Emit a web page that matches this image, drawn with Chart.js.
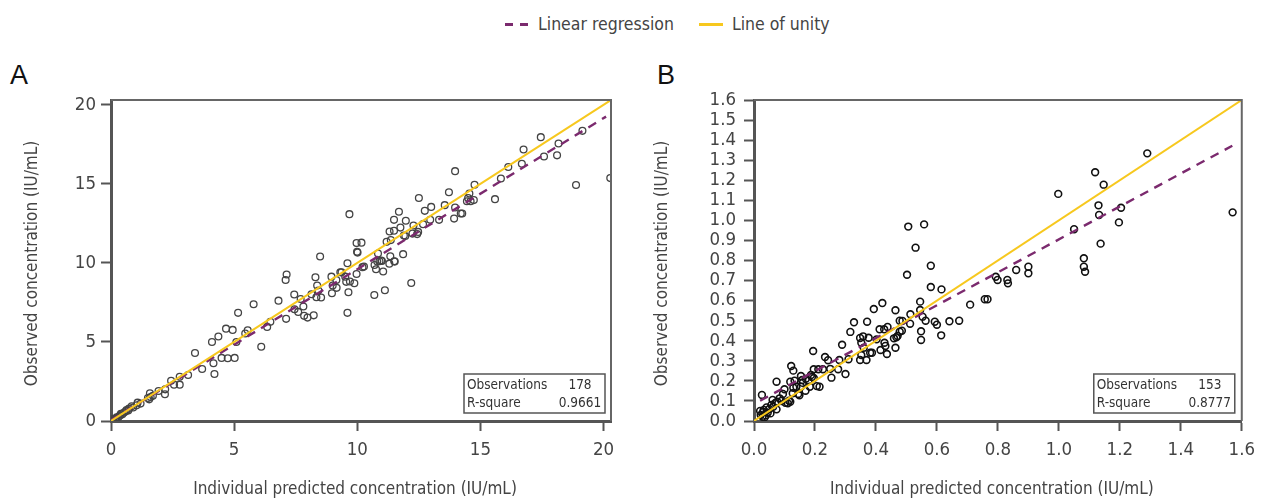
<!DOCTYPE html>
<html>
<head>
<meta charset="utf-8">
<script src="https://cdn.jsdelivr.net/npm/chart.js@4.4.1/dist/chart.umd.min.js"></script>
<style>
body { margin:0; background:#fff; width:1263px; height:500px; position:relative; overflow:hidden; }
canvas { position:absolute; top:0; }
#chartA { left:0; }
#chartB { left:632px; }
.panelLetter { position:absolute; top:62px; font:27px/27px "Liberation Sans", Arial, sans-serif; color:#111; }
#legend { position:absolute; top:11px; left:505px; height:26px; display:flex; align-items:center;
  font:17.5px/26px "DejaVu Sans Condensed", "Liberation Sans Narrow", sans-serif; color:#444; }
.swatch { width:24px; height:3px; margin-right:9px; }
#swRegression { background:repeating-linear-gradient(90deg,#7b2a6e 0 8px,transparent 8px 15px); }
#swUnity { background:#f7c81e; margin-left:25px; }
</style>
</head>
<body>
<div id="legend"><div class="swatch" id="swRegression"></div><span>Linear regression</span><div class="swatch" id="swUnity"></div><span>Line of unity</span></div>
<div class="panelLetter" style="left:10px">A</div>
<div class="panelLetter" style="left:657px">B</div>
<canvas id="chartA" width="631" height="500"></canvas>
<canvas id="chartB" width="631" height="500"></canvas>
<script>
// panel A
const predA = [20.27,19.14,17.45,18.17,18.11,17.58,16.75,16.68,16.13,15.83,18.88,15.59,14.76,13.97,13.72,14.55,14.5,14.45,14.6,14.73,
  12.5,13.55,13.97,13.0,12.74,11.69,14.2,14.26,13.93,13.32,12.96,11.49,11.97,11.75,12.28,12.67,11.31,11.49,11.89,11.95,
  12.24,12.47,12.43,11.19,11.36,9.97,10.17,9.68,9.99,10.84,11.86,11.34,10.9,11.0,11.5,11.3,
  8.49,7.13,7.09,8.3,9.6,6.8,7.44,7.7,8.14,8.37,8.42,8.34,8.53,8.95,9.15,9.0,9.16,8.97,9.31,9.36,9.51,9.55,9.7,9.88,
  9.64,9.6,9.97,5.79,5.16,7.11,7.45,7.6,7.84,7.98,8.23,7.81,6.47,6.34,5.55,5.45,6.1,5.09,4.67,4.94,4.1,4.36,3.41,
  4.49,4.74,5.02,4.16,3.7,4.2,3.13,2.79,2.44,2.56,2.79,2.2,2.19,1.93,1.58,1.61,1.55,1.08,1.04,0.84,0.73,0.63,0.53,
  0.46,0.36,0.23,0.16,11.52,10.97,10.81,10.7,11.05,10.76,10.27,10.21,10.01,12.19,11.12,10.69,
  0.1,0.05,0.3,0.4,0.6,0.7,0.9,1.2,1.5,1.7,0.2,0.08];
const obsA = [15.36,18.35,17.95,17.55,16.8,16.73,17.17,16.27,16.06,15.34,14.92,14.03,14.94,15.8,14.47,14.39,14.1,13.9,13.9,13.97,
  14.1,13.65,13.5,13.54,13.29,13.23,13.12,13.12,12.8,12.72,12.72,12.72,12.66,12.23,12.36,12.45,11.98,12.03,11.73,11.7,
  11.85,11.96,11.82,11.33,11.44,11.25,11.28,13.08,10.7,10.59,10.55,10.42,10.1,10.12,10.1,9.95,
  10.4,9.26,8.92,9.09,9.98,7.61,8.0,7.72,8.02,8.57,8.25,7.83,7.81,9.13,8.92,8.57,8.42,8.08,9.41,9.4,9.13,8.8,8.82,8.71,
  8.14,6.84,9.3,7.38,6.84,6.46,7.07,6.9,6.65,6.54,6.68,7.24,6.27,5.95,5.74,5.53,4.7,5.0,5.84,5.76,5.0,5.34,4.3,
  3.99,3.97,3.99,3.65,3.29,2.97,2.91,2.8,2.55,2.3,2.3,2.0,1.69,1.9,1.75,1.52,1.37,1.16,0.99,0.93,0.78,0.7,0.53,
  0.42,0.34,0.23,0.1,10.08,10.15,10.08,9.87,9.45,9.6,9.77,9.73,10.65,8.73,8.27,7.97,
  0.05,0.08,0.25,0.45,0.62,0.66,0.85,1.1,1.45,1.6,0.15,0.12];
const regA_x = [0, 20.1];
const regA_y = [0.05, 19.25];
const unityA = [0, 20.3];
const ticksA = [0, 5, 10, 15, 20];
const statsA = ["178", "0.9661"];

// panel B
const predB = [0.506,0.558,0.53,1.29,1.119,1.147,0.998,1.13,1.132,1.204,1.197,1.05,1.137,1.082,1.57,1.082,1.086,0.9,0.9,0.86,
  0.831,0.833,0.793,0.799,0.766,0.58,0.502,0.58,0.615,0.545,0.545,0.709,0.757,0.513,0.478,0.487,0.553,0.563,0.593,0.6,
  0.641,0.673,0.614,0.548,0.548,0.512,0.464,0.421,0.393,0.371,0.328,0.316,0.289,0.194,0.233,0.243,0.28,0.31,0.196,0.211,
  0.226,0.254,0.276,0.3,0.348,0.352,0.358,0.376,0.36,0.381,0.387,0.348,0.369,0.352,0.402,0.415,0.412,0.427,0.438,0.428,
  0.431,0.436,0.459,0.467,0.471,0.464,0.478,0.485,0.187,0.19,0.179,0.154,0.158,0.183,0.215,0.122,0.129,0.074,0.119,0.133,
  0.1,0.095,0.129,0.139,0.127,0.145,0.154,0.115,0.103,0.111,0.119,0.084,0.076,0.061,0.026,0.057,0.063,0.074,0.041,0.032,
  0.045,0.022,0.028,0.035,0.039,0.054,0.206,0.169,0.149,0.196,0.03,0.05,0.02,0.07,0.09,0.16,0.17,0.25];
const obsB = [0.969,0.98,0.864,1.334,1.24,1.178,1.132,1.075,1.027,1.063,0.99,0.956,0.884,0.811,1.04,0.769,0.744,0.769,0.736,0.753,
  0.703,0.686,0.719,0.703,0.607,0.774,0.729,0.668,0.656,0.595,0.553,0.58,0.607,0.532,0.5,0.499,0.52,0.5,0.495,0.48,
  0.497,0.5,0.427,0.447,0.404,0.485,0.552,0.588,0.558,0.495,0.492,0.444,0.38,0.349,0.319,0.303,0.304,0.308,0.258,0.258,
  0.258,0.216,0.258,0.234,0.414,0.39,0.422,0.415,0.365,0.34,0.34,0.304,0.304,0.329,0.407,0.354,0.457,0.457,0.469,0.39,
  0.374,0.334,0.412,0.417,0.424,0.365,0.445,0.45,0.229,0.219,0.201,0.224,0.204,0.171,0.171,0.274,0.251,0.196,0.196,0.201,
  0.158,0.135,0.166,0.171,0.138,0.135,0.171,0.101,0.091,0.088,0.096,0.113,0.096,0.105,0.13,0.08,0.071,0.058,0.068,0.055,
  0.041,0.03,0.021,0.018,0.028,0.038,0.174,0.151,0.128,0.214,0.045,0.06,0.05,0.09,0.1,0.19,0.21,0.26];
const regB_x = [0.02, 1.569];
const regB_y = [0.101, 1.372];
const unityB = [0, 1.6];
const ticksB = [0, 0.2, 0.4, 0.6, 0.8, 1.0, 1.2, 1.4, 1.6];
const ticksBy = [0,0.1,0.2,0.3,0.4,0.5,0.6,0.7,0.8,0.9,1.0,1.1,1.2,1.3,1.4,1.5,1.6];
const statsB = ["153", "0.8777"];
const statsLabels = ["Observations", "R-square"];
const xTitle = "Individual predicted concentration (IU/mL)";
const yTitle = "Observed concentration (IU/mL)";

const narrow = '"DejaVu Sans Condensed", "Liberation Sans Narrow", sans-serif';
const axisGrey = "#555";
const textGrey = "#444";

function toPoints(xs, ys) {
  return xs.map((x, i) => ({ x: x, y: ys[i] }));
}

// top + right frame, axis titles (sit a bit off-centre in the original) and the stats box
const framePlugin = {
  id: "frame",
  afterDraw(chart, args, opts) {
    const ctx = chart.ctx;
    const a = chart.chartArea;
    ctx.save();
    ctx.strokeStyle = "#666";
    ctx.lineWidth = 2;
    ctx.beginPath();
    ctx.moveTo(a.left, a.top);
    ctx.lineTo(a.right, a.top);
    ctx.lineTo(a.right, a.bottom);
    ctx.stroke();

    ctx.fillStyle = textGrey;
    ctx.font = "17px " + narrow;
    ctx.textAlign = "center";
    ctx.textBaseline = "middle";
    ctx.fillText(xTitle, (a.left + a.right) / 2 - 6, 490);
    ctx.save();
    ctx.translate(opts.yTitleX, (a.top + a.bottom) / 2 + 3);
    ctx.rotate(-Math.PI / 2);
    ctx.fillText(yTitle, 0, 0);
    ctx.restore();

    const w = 141, h = 39;
    const r = a.right - opts.gapRight, b = a.bottom - 8;
    ctx.fillStyle = "#fff";
    ctx.fillRect(r - w, b - h, w, h);
    ctx.strokeStyle = "#555";
    ctx.lineWidth = 1.5;
    ctx.strokeRect(r - w, b - h, w, h);
    ctx.fillStyle = "#333";
    ctx.font = "13.5px " + narrow;
    for (let i = 0; i < 2; i++) {
      const y = b - h + 11 + i * 18.5;
      ctx.textAlign = "left";
      ctx.fillText(statsLabels[i], r - w + 3, y);
      ctx.textAlign = "center";
      ctx.fillText(opts.values[i], r - 25, y);
    }
    ctx.restore();
  }
};

function makePanel(id, cfg) {
  const tickFont = { family: narrow, size: 18.5 };
  return new Chart(document.getElementById(id), {
    type: "scatter",
    data: {
      datasets: [
        {
          data: toPoints(cfg.unity, cfg.unity),
          showLine: true, borderColor: "#f7c81e", borderWidth: 2, pointRadius: 0
        },
        {
          data: toPoints(cfg.regX, cfg.regY),
          showLine: true, borderColor: "#7b2a6e", borderWidth: 2.4, borderDash: [9, 7], pointRadius: 0
        },
        {
          data: toPoints(cfg.px, cfg.py),
          pointRadius: 3.4, borderWidth: cfg.pointWidth, borderColor: cfg.pointColor,
          backgroundColor: "rgba(255,255,255,0)", pointStyle: "circle"
        }
      ]
    },
    options: {
      responsive: false,
      animation: false,
      layout: { padding: { top: 100, right: cfg.padRight, left: 0, bottom: 0 } },
      plugins: {
        legend: { display: false },
        tooltip: { enabled: false },
        frame: { values: cfg.stats, gapRight: cfg.boxGap, yTitleX: cfg.yTitleX }
      },
      scales: {
        x: {
          type: "linear", min: 0, max: cfg.max,
          afterFit: (s) => { s.height = 79; },
          afterBuildTicks: (s) => { s.ticks = cfg.xTicks.map((v) => ({ value: v })); },
          grid: { drawOnChartArea: false, drawTicks: true, tickLength: 10, tickWidth: 2, tickColor: axisGrey },
          border: { display: true, color: axisGrey, width: 3 },
          ticks: { color: textGrey, font: tickFont, padding: 8, maxRotation: 0, autoSkip: false, callback: cfg.fmt }
        },
        y: {
          type: "linear", min: 0, max: cfg.max,
          afterFit: (s) => { s.width = cfg.yWidth; },
          afterBuildTicks: (s) => { s.ticks = cfg.yTicks.map((v) => ({ value: v })); },
          grid: { drawOnChartArea: false, drawTicks: true, tickLength: 10, tickWidth: 2, tickColor: axisGrey },
          border: { display: true, color: axisGrey, width: 3 },
          ticks: { color: textGrey, font: tickFont, padding: cfg.yPad, autoSkip: false, callback: cfg.fmt }
        }
      }
    },
    plugins: [framePlugin]
  });
}

makePanel("chartA", {
  px: predA, py: obsA, regX: regA_x, regY: regA_y, unity: unityA, max: 20.3,
  xTicks: ticksA, yTicks: ticksA, fmt: (v) => String(v), stats: statsA,
  pointColor: "#444", pointWidth: 1.3, padRight: 20, yWidth: 111, yPad: 5, yTitleX: 33, boxGap: 6
});

makePanel("chartB", {
  px: predB, py: obsB, regX: regB_x, regY: regB_y, unity: unityB, max: 1.6,
  xTicks: ticksB, yTicks: ticksBy, fmt: (v) => v.toFixed(1), stats: statsB,
  pointColor: "#111", pointWidth: 1.6, padRight: 16, yWidth: 122, yPad: 8, yTitleX: 31, boxGap: 7
});
</script>
</body>
</html>
